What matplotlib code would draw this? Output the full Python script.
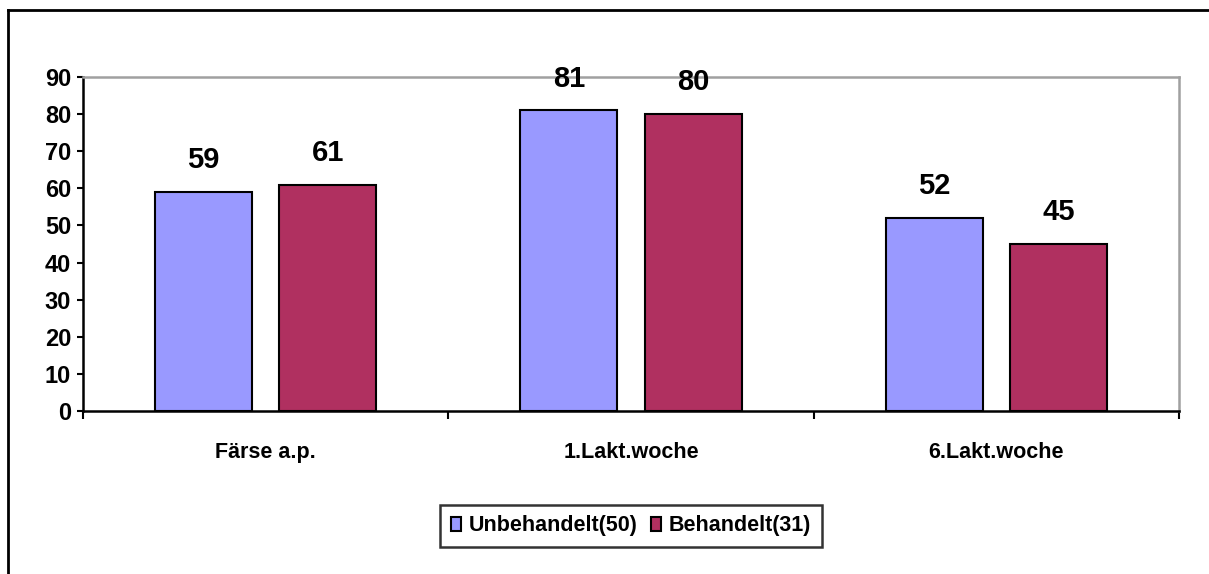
import matplotlib
matplotlib.use("Agg")
import matplotlib.pyplot as plt
from matplotlib import font_manager
from matplotlib.lines import Line2D
import numpy as np

plt.rcParams['font.family'] = ['Liberation Sans', 'DejaVu Sans']
plt.rcParams['font.weight'] = 'bold'

categories = ["Färse a.p.", "1.Lakt.woche", "6.Lakt.woche"]
series_names = ["Unbehandelt(50)", "Behandelt(31)"]
unbehandelt = [59, 81, 52]
behandelt = [61, 80, 45]
colors = ["#9999FF", "#B03060"]
y_ticks = [0, 10, 20, 30, 40, 50, 60, 70, 80, 90]

# narrow face for the category and legend texts, if present
installed = {f.name for f in font_manager.fontManager.ttflist}
if "Liberation Sans Narrow" in installed:
    narrow, narrow_size = ["Liberation Sans Narrow", "DejaVu Sans"], 18
else:
    narrow, narrow_size = ["Liberation Sans", "DejaVu Sans"], 15.5

W, H = 1209, 574
fig = plt.figure(figsize=(W / 100, H / 100), dpi=100)
ax = fig.add_axes([83 / W, 1 - 411 / H, (1179 - 83) / W, (411 - 77) / H])

x = np.arange(len(categories))
width = 0.265
offset = 0.17
for vals, name, col, sgn in [(unbehandelt, series_names[0], colors[0], -1),
                             (behandelt, series_names[1], colors[1], 1)]:
    bars = ax.bar(x + sgn * offset, vals, width, color=col, edgecolor="black",
                  linewidth=1.5, label=name, zorder=3)
    for b, v in zip(bars, vals):
        ax.annotate(str(v), (b.get_x() + b.get_width() / 2, v),
                    xytext=(0, 17), textcoords="offset points",
                    ha="center", va="baseline", fontsize=21, fontweight="bold")

ax.set_xlim(-0.5, len(categories) - 0.5)
ax.set_ylim(0, 90)
ax.set_yticks(y_ticks)
ax.tick_params(axis="y", direction="out", length=4.5, width=1.5, pad=4,
               labelsize=17)

# category boundaries as ticks, names centred in between
ax.set_xticks(np.arange(len(categories) + 1) - 0.5)
ax.set_xticklabels([])
ax.tick_params(axis="x", which="major", direction="out", length=5.5, width=1.5)
ax.set_xticks(x, minor=True)
ax.set_xticklabels(categories, minor=True, fontsize=narrow_size,
                   fontweight="bold", family=narrow)
ax.tick_params(axis="x", which="minor", length=0, pad=22)

for side in ["left", "bottom"]:
    ax.spines[side].set_color("black")
    ax.spines[side].set_linewidth(1.8)
for side in ["top", "right"]:
    ax.spines[side].set_color("#A0A0A0")
    ax.spines[side].set_linewidth(1.8)

leg = fig.legend(loc="center", bbox_to_anchor=(631 / W, 1 - 526 / H), ncol=2,
                 prop={"family": narrow, "size": narrow_size, "weight": "bold"},
                 frameon=True, fancybox=False, edgecolor="black",
                 handlelength=0.5, handleheight=0.65, handletextpad=0.35,
                 columnspacing=0.6, borderpad=0.5, borderaxespad=0)
leg.get_frame().set_linewidth(1.8)

# outer chart frame
fig.add_artist(Line2D([8 / W, 1.0], [1 - 10 / H, 1 - 10 / H],
                      transform=fig.transFigure, color="black", linewidth=2))
fig.add_artist(Line2D([8 / W, 8 / W], [1 - 10 / H, 0.0],
                      transform=fig.transFigure, color="black", linewidth=2))

fig.savefig("out.png", dpi=100)
